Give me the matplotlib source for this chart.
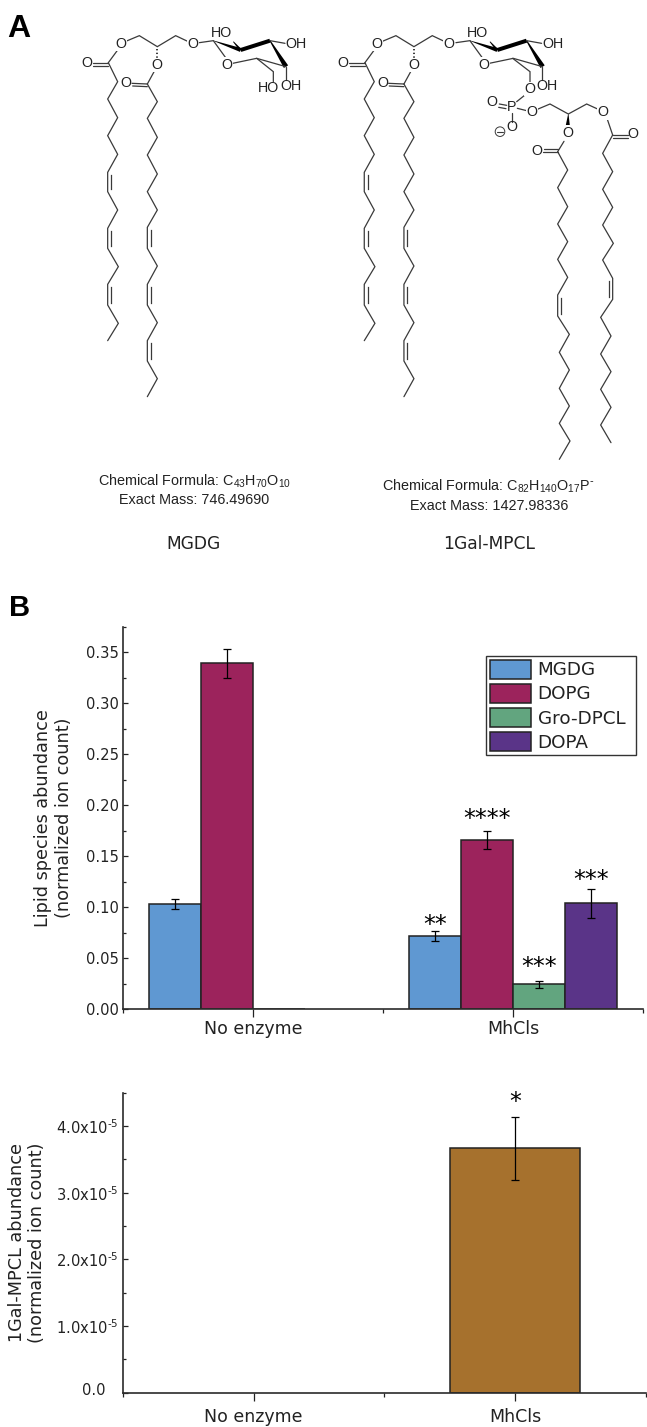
import matplotlib
matplotlib.use('Agg')
import numpy as np
import matplotlib.pyplot as plt
from matplotlib.patches import Polygon, Circle
from matplotlib.transforms import ScaledTranslation

W, H = 647, 1427
DARK = '#222222'

# panel B values
groups = ['No enzyme', 'MhCls']
species = ['MGDG', 'DOPG', 'Gro-DPCL', 'DOPA']
species_colors = ['#5F98D2', '#9C235C', '#62A57F', '#5A3488']
no_enzyme_vals = [0.103, 0.339, 0.0, 0.0]
no_enzyme_errs = [0.0051, 0.0144, np.nan, np.nan]
mhcls_vals = [0.0716, 0.166, 0.0245, 0.104]
mhcls_errs = [0.0047, 0.009, 0.0036, 0.0144]
mhcls_stars = ['**', '****', '***', '***']
star_heights_b = [0.0825, 0.1862, 0.0412, 0.1272]

# panel C values
gal_vals = [0.0, 3.666e-5]
gal_errs = [np.nan, 0.47e-5]
gal_color = '#A6712D'
gal_ticks = [0.0, 1e-5, 2e-5, 3e-5, 4e-5]
gal_ticklabels = ['0.0', r'1.0x10$^{\text{-}5}$', r'2.0x10$^{\text{-}5}$', r'3.0x10$^{\text{-}5}$', r'4.0x10$^{\text{-}5}$']

# structures, vertices in crop coordinates (3x, measured from x0)
chain_a = [(115,188),(143,245),(113,297),(143,353),(113,407),(143,463),(113,517),(113,575),
           (143,630),(113,685),(113,745),(145,800),(113,853),(113,915),(145,970),(113,1022)]
chain_a_double = [6, 9, 12]
chain_b = [(232,252),(262,305),(232,355),(262,412),(232,465),(262,522),(232,575),(262,630),
           (232,682),(232,745),(262,798),(232,853),(232,915),(262,968),(232,1022),(232,1083),
           (262,1136),(232,1190)]
chain_b_double = [8, 11, 14]
chain_c = [(683,455),(713,510),(683,563),(713,620),(683,672),(713,725),(683,778),(713,832),
           (683,885),(683,948),(718,1003),(688,1057),(718,1110),(688,1165),(718,1218),
           (688,1270),(720,1323),(688,1378)]
chain_c_double = [8]
chain_d = [(848,405),(818,460),(848,515),(818,568),(848,622),(818,675),(850,730),(818,780),
           (848,835),(848,898),(812,952),(843,1008),(812,1062),(843,1115),(812,1168),
           (843,1222),(812,1275),(843,1328)]
chain_d_double = [8]


def axes_px(left, right, top, bottom):
    return fig.add_axes([left / W, 1 - bottom / H, (right - left) / W, (bottom - top) / H])


def pts(coords, x0):
    return [(x0 + x / 3, y / 3) for x, y in coords]


def line(coords, x0, lw=0.9, color='#3a3a3a'):
    p = np.array(pts(coords, x0))
    over.plot(p[:, 0], p[:, 1], color=color, lw=lw, solid_capstyle='round', solid_joinstyle='miter')


def chain(coords, doubles, x0, side=1):
    line(coords, x0)
    p = np.array(pts(coords, x0))
    for i in doubles:
        a, b = p[i], p[i + 1]
        over.plot([a[0] + side * 3.3] * 2, [a[1] + 2.5, b[1] - 2.5], color='#3a3a3a', lw=0.9)


def wedge(a, b, w0, w1, x0):
    a, b = np.array(pts([a, b], x0))
    n = np.array([-(b - a)[1], (b - a)[0]])
    n = n / np.hypot(*n)
    over.add_patch(Polygon([a + n * w0 / 2, b + n * w1 / 2, b - n * w1 / 2, a - n * w0 / 2],
                           fc='black', ec='none'))


def atom(x, y, s, x0, box=False):
    kw = dict(bbox=dict(fc='white', ec='none', pad=0.3)) if box else {}
    over.text(x0 + x / 3, y / 3, s, ha='center', va='center', fontsize=10.3, color='#222222',
              family='Liberation Sans', zorder=5, **kw)


def lipid_tails(x0):
    chain(chain_a, chain_a_double, x0)
    chain(chain_b, chain_b_double, x0)
    line([(165,125),(208,107),(262,140),(317,107),(355,125)], x0)
    line([(143,150),(115,188)], x0)
    line([(115,188),(68,188)], x0)
    line([(115,197),(70,197)], x0)
    line([(255,210),(232,252)], x0)
    line([(232,252),(186,250)], x0)
    line([(232,260),(188,258)], x0)
    over.plot([x0 + 262 / 3] * 2, [146 / 3, 178 / 3], color='#3a3a3a', lw=1.4, ls=(0, (0.7, 1.2)))
    line([(388,128),(430,122),(472,180)], x0)
    wedge((430,122), (512,150), 0.4, 4, x0)
    wedge((512,150), (600,122), 4, 4, x0)
    wedge((600,122), (648,200), 1.0, 5, x0)
    line([(648,200),(560,175),(488,190)], x0)
    wedge((490,125), (512,150), 0.8, 2.5, x0)
    line([(600,122),(645,130)], x0)
    atom(152, 132, 'O', x0, box=True)
    atom(50, 188, 'O', x0)
    atom(262, 195, 'O', x0, box=True)
    atom(168, 250, 'O', x0)
    atom(368, 132, 'O', x0, box=True)
    atom(472, 194, 'O', x0, box=True)
    atom(453, 100, 'HO', x0)
    atom(678, 131, 'OH', x0)


fig = plt.figure(figsize=(W / 100, H / 100), dpi=100)
fig.patch.set_facecolor('white')

# structure overlay in pixel space
over = fig.add_axes([0, 0, 1, 1])
over.set_xlim(0, W)
over.set_ylim(H, 0)
over.axis('off')

# MGDG
lipid_tails(70)
line([(560,175),(610,215),(610,245)], 70)
line([(648,200),(648,240)], 70)
atom(596, 265, 'HO', 70)
atom(662, 258, 'OH', 70)

# 1Gal-MPCL
lipid_tails(326.6)
line([(548,175),(600,215),(600,250)], 330)
line([(636,200),(636,240)], 330)
atom(650, 258, 'OH', 330)
atom(600, 267, 'O', 330, box=True)
line([(585,285),(560,305)], 330)
line([(508,312),(530,316)], 330)
line([(506,322),(528,326)], 330)
line([(562,325),(590,332)], 330)
line([(545,340),(545,365)], 330)
line([(622,328),(660,312),(715,342),(770,312),(805,328)], 330)
atom(545, 320, 'P', 330)
atom(485, 305, 'O', 330)
atom(605, 336, 'O', 330, box=True)
atom(545, 382, 'O', 330)
over.add_patch(Circle((330 + 510 / 3, 395 / 3), 4.8, fc='white', ec='#3a3a3a', lw=0.7))
line([(502,395),(518,395)], 330, lw=0.8)
wedge((715,342), (713,385), 0.4, 5, 330)
line([(702,424),(683,455)], 330)
line([(683,455),(640,455)], 330)
line([(683,447),(642,447)], 330)
line([(830,352),(848,405)], 330)
line([(848,405),(895,405)], 330)
line([(848,413),(893,413)], 330)
chain(chain_c, chain_c_double, 330)
chain(chain_d, chain_d_double, 330, side=-1)
atom(713, 398, 'O', 330, box=True)
atom(620, 453, 'O', 330)
atom(820, 337, 'O', 330, box=True)
atom(910, 403, 'O', 330)

# captions
arial = dict(family='Liberation Sans', fontsize=10.4, color='#222222', ha='center', va='center')
over.text(194.3, 481, r'Chemical Formula: C$\mathregular{_{43}}$H$\mathregular{_{70}}$O$\mathregular{_{10}}$', **arial)
over.text(194.3, 500, 'Exact Mass: 746.49690', **arial)
over.text(488, 486, r'Chemical Formula: C$\mathregular{_{82}}$H$\mathregular{_{140}}$O$\mathregular{_{17}}$P$^{\text{-}}$', **arial)
over.text(488.7, 506.5, 'Exact Mass: 1427.98336', **arial)
over.text(194, 544, 'MGDG', fontsize=12.3, color='#222222', ha='center', va='center')
over.text(489, 544, '1Gal-MPCL', fontsize=12.3, color='#222222', ha='center', va='center')
over.text(7, 29, 'A', family='Liberation Sans', weight='bold', fontsize=23, va='center')
over.text(9, 608.5, 'B', family='Liberation Sans', weight='bold', fontsize=21, va='center')


def style_axes(ax):
    ax.patch.set_alpha(0)
    for side in ['top', 'right']:
        ax.spines[side].set_visible(False)
    for side in ['left', 'bottom']:
        ax.spines[side].set_color('#2b2b2b')
        ax.spines[side].set_linewidth(1.2)
    ax.set_xlim(0.5, 2.5)
    ax.set_xticks([1, 2], groups)
    ax.set_xticks([0.5, 1.5, 2.5], minor=True)
    ax.tick_params(axis='x', which='major', length=5.8, width=0.9, color=DARK, labelsize=12.5,
                   labelcolor=DARK, pad=2)
    ax.tick_params(axis='x', which='minor', length=3.2, width=0.9, color=DARK)
    ax.tick_params(axis='y', which='major', direction='in', length=3.8, width=0.9, color=DARK,
                   labelsize=10.6, labelcolor=DARK, pad=3.4)
    ax.tick_params(axis='y', which='minor', direction='in', length=2.2, width=0.9, color=DARK)


# panel B
ax1 = axes_px(123.3, 643.3, 626.7, 1009.3)
style_axes(ax1)
offsets = np.array([-0.3, -0.1, 0.1, 0.3])
last_bars = None
for i, name in enumerate(species):
    last_bars = ax1.bar([1 + offsets[i], 2 + offsets[i]], [no_enzyme_vals[i], mhcls_vals[i]], 0.2,
                        color=species_colors[i], edgecolor=DARK, linewidth=1.1, label=name,
                        yerr=[no_enzyme_errs[i], mhcls_errs[i]],
                        error_kw=dict(ecolor='black', elinewidth=0.9, capsize=3, capthick=0.9))
for off, s, h in zip(offsets, mhcls_stars, star_heights_b):
    ax1.text(2 + off, h, s, ha='center', va='center', fontsize=17, color='black')
ax1.set_ylim(0, 0.375)
ax1.set_yticks([0, 0.05, 0.10, 0.15, 0.20, 0.25, 0.30, 0.35])
ax1.set_yticklabels(['0.00', '0.05', '0.10', '0.15', '0.20', '0.25', '0.30', '0.35'])
ax1.set_yticks(np.arange(0.025, 0.38, 0.05), minor=True)
ax1.set_ylabel('Lipid species abundance\n(normalized ion count)', fontsize=12.7, color=DARK,
               linespacing=1.2)
ax1.yaxis.set_label_coords((73 - 123.3) / 520, 0.5)
ax1.legend(loc='upper left', bbox_to_anchor=((486 - 123.3) / 520, (1009.3 - 656) / 382.6, 150 / 520, 0),
           mode='expand', fontsize=13.2, frameon=True, fancybox=False, framealpha=1, edgecolor='#333333',
           handlelength=2.28, handleheight=1.22, handletextpad=0.33, labelspacing=0.24,
           borderpad=0.2, borderaxespad=0, labelcolor=DARK)
# the empty DOPA bar should not thicken the baseline (after legend, which copies the style)
last_bars[0].set_linewidth(0)

# panel C
ax2 = axes_px(123, 645.7, 1092.7, 1392.7)
style_axes(ax2)
bars = ax2.bar([1, 2], gal_vals, 0.5, color=gal_color, edgecolor=DARK, linewidth=1.1, yerr=gal_errs,
               error_kw=dict(ecolor='black', elinewidth=0.9, capsize=3, capthick=0.9))
bars[0].set_linewidth(0)
ax2.text(2, 4.36e-5, '*', ha='center', va='center', fontsize=17, color='black')
ax2.set_ylim(0, 4.5e-5)
ax2.set_yticks(gal_ticks)
ax2.set_yticklabels(gal_ticklabels)
ax2.set_yticks(np.arange(0.5e-5, 4.6e-5, 1e-5), minor=True)
ax2.set_ylabel('1Gal-MPCL abundance\n(normalized ion count)', fontsize=12.7, color=DARK,
               linespacing=1.2)
ax2.yaxis.set_label_coords((46.5 - 123) / 522.7, 0.5)
zero_label = ax2.yaxis.get_major_ticks()[0].label1
zero_label.set_transform(zero_label.get_transform() + ScaledTranslation(-13 / 100, 3.5 / 100, fig.dpi_scale_trans))
ax2.tick_params(axis='x', which='major', pad=5)

fig.savefig('out.png', dpi=100)
